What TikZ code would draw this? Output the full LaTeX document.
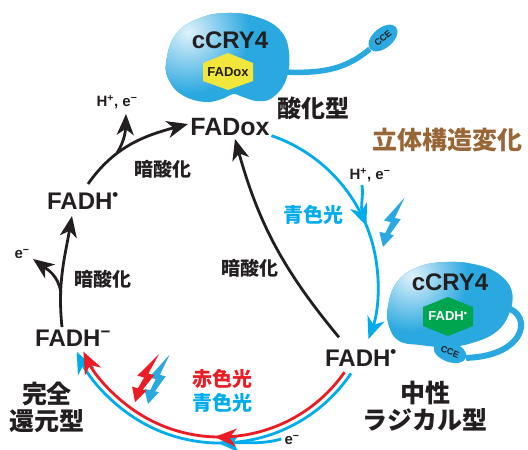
\documentclass[tikz,border=0pt]{standalone}
\usepackage{fontspec}
\setmainfont{Liberation Sans}
\newfontfamily\jpfont{Noto Sans CJK JP}
\usetikzlibrary{arrows.meta,calc,positioning,decorations.markings,shapes.geometric}

\definecolor{crybody}{RGB}{42,168,224}
\definecolor{bluelight}{RGB}{0,172,236}
\definecolor{redlight}{RGB}{236,28,36}
\definecolor{fadyellow}{RGB}{240,230,60}
\definecolor{fadgreen}{RGB}{0,165,80}
\definecolor{confbrown}{RGB}{153,102,56}
\definecolor{ink}{RGB}{35,31,32}

\tikzset{
  state/.style={font=\fontsize{24}{26}\selectfont\bfseries, text=ink, inner sep=0pt},
  jtext/.style={font=\jpfont\bfseries\fontsize{#1}{27}\selectfont, text=ink, align=center, inner sep=0pt},
  jtext/.default=25,
  ion/.style={font=\fontsize{15}{17}\selectfont\bfseries, text=ink, inner sep=0pt},
  hexlabel/.style={font=\fontsize{13}{15}\selectfont\bfseries, inner sep=0pt},
  cce/.style={ellipse, fill=crybody, minimum width=34pt, minimum height=20pt, inner sep=0pt,
    font=\fontsize{9}{10}\selectfont\bfseries, text=ink},
  blk/.style={ink, line width=2.8pt, -{Stealth[length=21pt,width=17pt,inset=6pt]}},
  blu/.style={bluelight, line width=2.8pt},
  rd/.style={redlight, line width=2.8pt},
  bigtip/.style={-{Stealth[length=22pt,width=18pt,inset=7pt]}},
  tipmark/.style={postaction={decorate,decoration={markings,
    mark=at position #1 with {\arrow{Stealth[length=22pt,width=18pt,inset=7pt]}}}}}
}

% lightning arrow, tip at #1
\newcommand\lightbolt[3]{%
  \fill[#3,shift={#1},rotate=#2] (0,0) -- (8,14) -- (4,14) -- (11,31) -- (5,31) -- (10,53)
    -- (-5,26) -- (2,26) -- (-1,14) -- (-7,14) -- cycle;}

\begin{document}
\begin{tikzpicture}[x=1pt,y=1pt]
  \useasboundingbox (0,0) rectangle (528,-450);

  % oxidised cCRY4
  \def\topblob{(166,-63) (176,-34) (200,-18) (228,-13) (257,-17) (280,-30) (289,-52) (286,-80)
    (272,-98) (257,-101) (243,-97) (233,-94) (222,-99) (205,-102) (184,-96) (170,-82)}
  \node[cce, rotate=40] (cceTop) at (383,-38) {CCE};
  \draw[crybody, line width=5.5pt] (282,-72) to[out=-2,in=220] (cceTop.west);
  \fill[crybody] plot[smooth cycle, tension=0.7] coordinates {\topblob};
  \begin{scope}
    \clip plot[smooth cycle, tension=0.7] coordinates {\topblob};
    \shade[inner color=white!85!crybody, outer color=crybody] (188,-32) circle (62);
  \end{scope}
  \node[state, font=\fontsize{24}{26}\selectfont\bfseries] (cryTop) at (230,-40) {cCRY4};
  \fill[fadyellow] (228,-53) -- (253,-63) -- (253,-81) -- (228,-90) -- (203,-81) -- (203,-63) -- cycle;
  \node[hexlabel, text=ink] (oxHex) at (228,-72) {FADox};

  % radical cCRY4
  \def\rightblob{(388,-306) (397,-282) (418,-267) (447,-262) (478,-265) (500,-275) (512,-292)
    (509,-314) (496,-332) (472,-343) (447,-347) (420,-345) (399,-341) (389,-326)}
  \fill[crybody] plot[smooth cycle, tension=0.7] coordinates {\rightblob};
  \begin{scope}
    \clip plot[smooth cycle, tension=0.7] coordinates {\rightblob};
    \shade[inner color=white!85!crybody, outer color=crybody] (412,-276) circle (56);
  \end{scope}
  \node[cce, rotate=-20] (cceR) at (450,-352) {CCE};
  \draw[crybody, line width=6pt] (498,-306) .. controls (535,-308) and (530,-356) .. (cceR.east);
  \node[state, font=\fontsize{24}{26}\selectfont\bfseries] (cryR) at (450,-282) {cCRY4};
  \fill[fadgreen] (448,-297) -- (473,-307) -- (473,-326) -- (448,-336) -- (423,-326) -- (423,-307) -- cycle;
  \node[hexlabel, text=white] (radHex) at (448,-316) {FADH\textsuperscript{\textbullet}};

  % states
  \node[state, font=\fontsize{25}{27}\selectfont\bfseries] (fadox) at (230,-127) {FADox};
  \node[state] (fadhR) at (361,-358) {FADH\textsuperscript{\textbullet}};
  \node[state] (fadhL) at (83,-201) {FADH\textsuperscript{\textbullet}};
  \node[state] (fadhm) at (73,-338) {FADH\textsuperscript{−}};

  \node[jtext=24] (ox) at (313,-108) {酸化型};
  \node[jtext=25, text=confbrown] (conf) at (447,-140) {立体構造変化};
  \node[jtext] (neutral) at (425,-406) {中性\\ラジカル型};
  \node[jtext] (reduced) at (47,-407) {完全\\還元型};
  \node[jtext=19] (darkA) at (163,-169) {暗酸化};
  \node[jtext=19] (darkB) at (103,-279) {暗酸化};
  \node[jtext=19] (darkC) at (250,-268) {暗酸化};
  \node[jtext=20, text=bluelight] (blueA) at (313,-215) {青色光};
  \node[jtext=20, text=redlight] (redB) at (222,-379) {赤色光};
  \node[jtext=20, text=bluelight, below=4pt of redB] (blueB) {青色光};

  \node[ion] (hpeR) at (370,-175) {H\textsuperscript{+}, e\textsuperscript{−}};
  \node[ion] (hpeL) at (117,-102) {H\textsuperscript{+}, e\textsuperscript{−}};
  \node[ion] (emL) at (22,-254) {e\textsuperscript{−}};
  \node[ion] (emB) at (292,-440) {e\textsuperscript{−}};

  % photoreduction by blue light
  \coordinate (cyc) at (220,-285);
  \coordinate (blueS) at ($(cyc)+(71:158)$);
  \coordinate (blueJoin) at ($(cyc)+(24:158)$);
  \draw[blu] ($(hpeR.south)+(-8,-3)$) to[out=-82,in=114] (blueJoin);
  \draw[blu, bigtip, tipmark=0.54] (blueS) arc[start angle=71, end angle=-20, radius=158];
  \lightbolt{(383,-247)}{-13}{crybody}

  % red / blue light to the fully reduced form
  \coordinate (botBlue) at ($(cyc)+(-34:158)$);
  \coordinate (botRed) at ($(cyc)+(-35:152)$);
  \coordinate (eJoin) at ($(cyc)+(-86:158)$);
  \draw[blu, bigtip, tipmark=0.47] (botBlue) arc[start angle=-34, end angle=-155, radius=158];
  \draw[blu] ($(emB.west)+(-3,1)$) to[out=195,in=0] (eJoin);
  \draw[rd, bigtip, tipmark=0.48] (botRed) arc[start angle=-35, end angle=-154, radius=152];
  \lightbolt{(148,-404)}{-13}{crybody}
  \lightbolt{(135,-402)}{-16}{redlight}

  % dark reoxidation
  \coordinate (hmTop) at (62,-327);
  \coordinate (hsBot) at (72,-216);
  \coordinate (eFork) at (60.7,-292);
  \coordinate (eTip) at (33,-259);
  \draw[blk] (hmTop) to[out=96,in=-100] (hsBot);
  \draw[blk] (eFork) to[out=98,in=-36] (eTip);

  \coordinate (hsTop) at (88,-184);
  \coordinate (oxW) at (188,-124);
  \coordinate (hFork) at (117,-153);
  \coordinate (hTip) at (126,-114);
  \draw[blk] (hsTop) to[out=55,in=195] (oxW);
  \draw[blk] (hFork) to[out=58,in=-92] (hTip);

  \draw[blk] ($(fadhR.north west)+(14,12)$) to[bend left=12] ($(fadox.south)+(5,-3)$);
\end{tikzpicture}
\end{document}
